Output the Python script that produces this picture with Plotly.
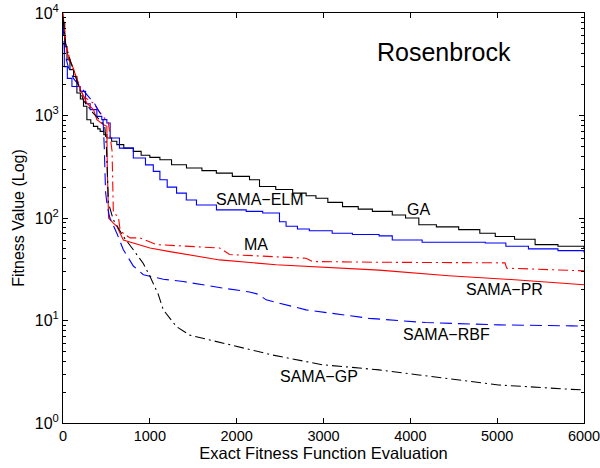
import plotly.graph_objects as go
import numpy as np

# Convergence histories on the Rosenbrock function (fitness vs. exact evaluations)
ga_x = [0, 20, 46, 80, 122, 160, 200, 236, 275, 320, 351, 400, 428, 470, 505, 560, 620, 700, 810,
        900, 1000, 1116, 1250, 1422, 1600, 1766, 1950, 2148, 2263, 2450, 2645, 2800, 2913, 3050,
        3219, 3400, 3563, 3792, 3945, 4098, 4300, 4557, 4800, 4978, 5200, 5437, 5700, 6000]
ga_y = [8000, 4700, 3500, 2800, 2400, 1660, 1450, 1230, 910, 840, 784, 740, 700, 650, 603, 560,
        520, 480, 447, 410, 390, 370, 331, 307, 290, 274, 255, 236, 203, 190, 175, 165, 156, 142,
        129, 122, 116, 107, 100, 86, 82, 77, 71, 66, 62, 55, 53, 50]

elm_x = [0, 15, 50, 103, 198, 260, 313, 390, 447, 505, 543, 650, 810, 950, 1040, 1116, 1200, 1308,
         1420, 1537, 1767, 2110, 2300, 2493, 2569, 2700, 2837, 3100, 3333, 3640, 3792, 4136, 4863,
         5100, 5360, 5700, 6000]
elm_y = [5000, 3000, 2300, 1920, 1720, 1300, 1140, 980, 911, 845, 603, 480, 385, 330, 285, 236,
         200, 175, 150, 134, 120, 116, 112, 92, 83, 78, 75, 71, 69, 67, 61, 58, 57, 53, 50, 48, 46]

pr_x = [0, 30, 66, 103, 198, 275, 351, 390, 466, 505, 510, 525, 580, 620, 695, 810, 1001, 1231,
        1500, 1804, 2454, 3000, 3640, 4442, 5200, 6000]
pr_y = [10000, 5000, 3500, 3150, 1800, 1320, 1140, 910, 810, 784, 300, 100, 89, 83, 61, 57, 51,
        47, 43, 39, 35, 33, 31, 27.3, 25, 22.3]

ma_x = [0, 30, 84, 236, 351, 428, 523, 550, 565, 580, 638, 657, 700, 772, 887, 1078, 1500, 1804,
        1919, 2400, 2798, 2875, 3640, 5090, 5110, 6000]
ma_y = [9500, 5000, 3400, 1530, 1320, 1060, 845, 600, 450, 112, 103, 77, 70, 64, 64, 55, 53, 51,
        44, 42, 40.5, 37.6, 37, 36.5, 32.4, 30.5]

rbf_x = [0, 20, 60, 120, 200, 313, 370, 400, 460, 475, 490, 510, 540, 620, 695, 810, 925, 1155,
         1384, 1842, 2148, 2250, 2340, 2798, 3100, 3525, 4175, 5016, 5856, 6000]
rbf_y = [8000, 4000, 3000, 2300, 1900, 1470, 1280, 1150, 950, 500, 180, 130, 100, 71, 49, 34, 28,
         25.3, 24, 20.7, 19, 18, 15.9, 12.7, 11.8, 10.5, 9.55, 9.06, 8.86, 8.8]

gp_x = [0, 30, 80, 150, 236, 350, 450, 480, 500, 515, 523, 580, 695, 810, 925, 1001, 1097, 1155,
        1308, 1460, 1842, 2416, 2989, 3640, 4098, 4557, 5016, 5856, 6000]
gp_y = [9000, 5000, 3500, 2300, 1400, 1050, 850, 800, 500, 250, 140, 96, 66, 49, 36, 27, 18, 12.7,
        8.7, 7.2, 6.0, 4.6, 3.7, 3.3, 2.94, 2.63, 2.35, 2.13, 2.1]

x_ticks = [0, 1000, 2000, 3000, 4000, 5000, 6000]
y_ticks = [1, 10, 100, 1000, 10000]
y_ticktext = ["10<sup>0</sup>", "10<sup>1</sup>", "10<sup>2</sup>", "10<sup>3</sup>", "10<sup>4</sup>"]

FONT = "Liberation Sans, Arial, Helvetica, sans-serif"

fig = go.Figure()

series = [
    (ga_x, ga_y, "GA", "black", "solid", "hv"),
    (elm_x, elm_y, "SAMA\u2212ELM", "blue", "solid", "hv"),
    (ma_x, ma_y, "MA", "red", "10px,4px,2px,4px", "linear"),
    (pr_x, pr_y, "SAMA\u2212PR", "red", "solid", "linear"),
    (rbf_x, rbf_y, "SAMA\u2212RBF", "blue", "12px,6px", "linear"),
    (gp_x, gp_y, "SAMA\u2212GP", "black", "10px,4px,2px,4px", "linear"),
]
for xs, ys, name, color, dash, shape in series:
    fig.add_trace(go.Scatter(x=xs, y=ys, mode="lines", name=name,
                             line=dict(color=color, width=1.1, dash=dash, shape=shape)))

# In-plot labels (y given as log10 for the log axis)
labels = [
    ("SAMA\u2212ELM", 2271, 150),
    ("GA", 4094, 120),
    ("MA", 2224, 54.7),
    ("SAMA\u2212PR", 5090, 19.9),
    ("SAMA\u2212RBF", 4413, 7.23),
    ("SAMA\u2212GP", 2951, 2.83),
]
for text, lx, ly in labels:
    fig.add_annotation(x=lx, y=np.log10(ly), xref="x", yref="y", text=text, showarrow=False,
                       font=dict(family=FONT, size=16, color="black"))

fig.add_annotation(x=4387, y=np.log10(4200), xref="x", yref="y", text="Rosenbrock",
                   showarrow=False, font=dict(family=FONT, size=25, color="black"))

minor_vals = [m * 10 ** k for k in range(4) for m in range(2, 10)]

fig.update_layout(
    width=600, height=468,
    margin=dict(l=63, r=16, t=13, b=45),
    paper_bgcolor="white", plot_bgcolor="white",
    showlegend=False,
    font=dict(family=FONT, size=16, color="black"),
    xaxis=dict(
        range=[0, 6000], tickmode="array", tickvals=x_ticks,
        ticks="inside", ticklen=5, tickcolor="black", tickwidth=1,
        showline=True, linecolor="black", linewidth=1, mirror="ticks",
        showgrid=False, zeroline=False, ticklabeloverflow="allow", automargin=False,
        tickfont=dict(family=FONT, size=14.5),
        title=dict(text="Exact Fitness Function Evaluation", standoff=3,
                   font=dict(family=FONT, size=16.5)),
    ),
    yaxis=dict(
        type="log", range=[0, 4], tickmode="array", tickvals=y_ticks, ticktext=y_ticktext,
        ticks="inside", ticklen=5, tickcolor="black", tickwidth=1,
        showline=True, linecolor="black", linewidth=1, mirror="ticks",
        showgrid=False, zeroline=False, ticklabeloverflow="allow", automargin=False,
        tickfont=dict(family=FONT, size=16),
        minor=dict(tickmode="array", tickvals=minor_vals, ticks="inside", ticklen=3,
                   tickcolor="black", showgrid=False),
        title=dict(text="Fitness Value (Log)", standoff=6, font=dict(family=FONT, size=16)),
    ),
)

fig.write_html("out.html", config={"displayModeBar": False})
